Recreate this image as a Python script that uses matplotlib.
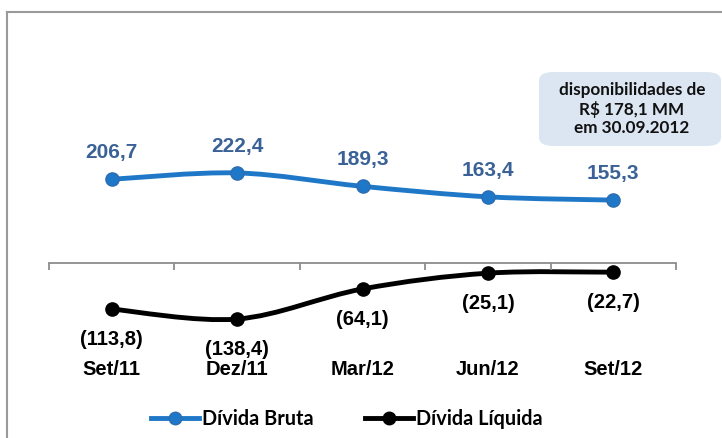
import matplotlib.pyplot as plt
from matplotlib.path import Path
from matplotlib.patches import PathPatch, FancyBboxPatch
from matplotlib.lines import Line2D

categorias = ["Set/11", "Dez/11", "Mar/12", "Jun/12", "Set/12"]
divida_bruta = [206.7, 222.4, 189.3, 163.4, 155.3]
divida_liquida = [-113.8, -138.4, -64.1, -25.1, -22.7]
rotulos_bruta = ["206,7", "222,4", "189,3", "163,4", "155,3"]
rotulos_liquida = ["(113,8)", "(138,4)", "(64,1)", "(25,1)", "(22,7)"]

azul = "#1F77C8"
azul_texto = "#3A6296"

W, H = 722, 438
fig = plt.figure(figsize=(W / 100, H / 100), dpi=100)

# axes in pixels: x -0.5..4.5 -> 49..676, y zero at 263 px, 0.405 px per unit
s = 0.405
top_px, bot_px = 40, 400
ax = fig.add_axes([49 / W, 1 - bot_px / H, (676 - 49) / W, (bot_px - top_px) / H])
ax.set_xlim(-0.5, 4.5)
ax.set_ylim(-(bot_px - 263) / s, (263 - top_px) / s)
ax.patch.set_visible(False)
for sp in ["top", "right", "left"]:
    ax.spines[sp].set_visible(False)
ax.spines["bottom"].set_position(("data", 0))
ax.spines["bottom"].set_color("#8C8C8C")
ax.spines["bottom"].set_linewidth(1.3)
ax.set_yticks([])
x = list(range(len(categorias)))
ax.set_xticks(x)
ax.set_xticklabels(categorias, fontsize=14.5, fontweight="bold", family="Liberation Sans")
ax.tick_params(axis="x", which="major", length=0, pad=70)
ax.set_xticks([i - 0.5 for i in range(len(categorias) + 1)], minor=True)
ax.tick_params(axis="x", which="minor", length=5, width=1.3, color="#8C8C8C", direction="out")


def suave(xs, ys):
    # Catmull-Rom -> bezier, like Excel smoothed line
    verts = [(xs[0], ys[0])]
    codes = [Path.MOVETO]
    n = len(xs)
    for i in range(n - 1):
        x0, y0 = (xs[i - 1], ys[i - 1]) if i > 0 else (xs[i], ys[i])
        x1, y1 = xs[i], ys[i]
        x2, y2 = xs[i + 1], ys[i + 1]
        x3, y3 = (xs[i + 2], ys[i + 2]) if i + 2 < n else (x2, y2)
        t = 6
        verts += [(x1 + (x2 - x0) / t, y1 + (y2 - y0) / t),
                  (x2 - (x3 - x1) / t, y2 - (y3 - y1) / t),
                  (x2, y2)]
        codes += [Path.CURVE4] * 3
    return Path(verts, codes)


ax.add_patch(PathPatch(suave(x, divida_bruta), fill=False, edgecolor=azul, lw=3.5, capstyle="round"))
ax.add_patch(PathPatch(suave(x, divida_liquida), fill=False, edgecolor="black", lw=3.5, capstyle="round"))
ax.plot(x, divida_bruta, "o", color=azul, ms=9.5, mec="#2E6CB0", ls="none")
ax.plot(x, divida_liquida, "o", color="black", ms=9.5, ls="none")

for xi, v, r in zip(x, divida_bruta, rotulos_bruta):
    ax.annotate(r, (xi, v), xytext=(0, 19), textcoords="offset points", ha="center",
                va="center", fontsize=15, fontweight="bold", color=azul_texto,
                family="Liberation Sans")
for xi, v, r in zip(x, divida_liquida, rotulos_liquida):
    ax.annotate(r, (xi, v), xytext=(0, -22), textcoords="offset points", ha="center",
                va="center", fontsize=14.5, fontweight="bold", color="black",
                family="Liberation Sans")

# border of the chart area
fig.add_artist(Line2D([7 / W, 7 / W], [0, 1 - 12 / H], color="#9A9A9A", lw=1.5))
fig.add_artist(Line2D([7 / W, 1], [1 - 12 / H, 1 - 12 / H], color="#9A9A9A", lw=1.5))

# note box
box = FancyBboxPatch((539 / W, 1 - 146 / H), 182 / W, 74 / H,
                     boxstyle="round,pad=0,rounding_size=0.02", transform=fig.transFigure,
                     facecolor="#DCE6F2", edgecolor="none")
fig.add_artist(box)
fig.text(632 / W, 1 - 109 / H, "disponibilidades de\nR$ 178,1 MM\nem 30.09.2012",
         ha="center", va="center", fontsize=12.3, fontweight="bold", family="Lato",
         linespacing=1.2, color="#111111")

handles = [Line2D([], [], color=azul, lw=3.5, marker="o", ms=9, mec="#2E6CB0"),
           Line2D([], [], color="black", lw=3.5, marker="o", ms=9)]
fig.legend(handles, ["Dívida Bruta", "Dívida Líquida"], loc="center",
           bbox_to_anchor=(347 / W, 1 - 419 / H), ncol=2, frameon=False,
           prop={"family": "Lato", "weight": "bold", "size": 14.3},
           handlelength=2.4, handletextpad=0.15, columnspacing=2.6)

fig.savefig("out.png", dpi=100)
